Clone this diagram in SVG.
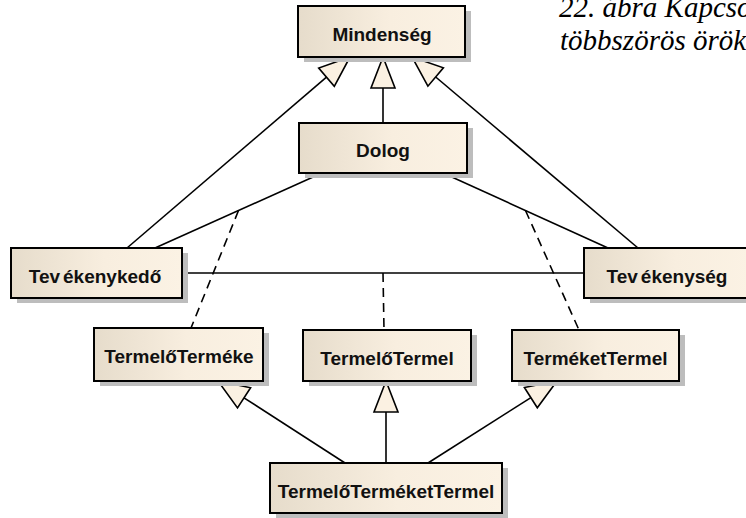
<svg xmlns="http://www.w3.org/2000/svg" width="746" height="518" viewBox="0 0 746 518">
  <defs>
    <linearGradient id="boxFill" x1="0" y1="0" x2="1" y2="0">
      <stop offset="0" stop-color="#e6dccb"/>
      <stop offset="0.55" stop-color="#f8eedf"/>
      <stop offset="1" stop-color="#fbf2e4"/>
    </linearGradient>
  </defs>
  <style>
    .shadow { fill: #bdbdbd; }
    .box { fill: url(#boxFill); stroke: #000; stroke-width: 2; }
    .label { font-family: "Liberation Sans", Arial, sans-serif; font-weight: bold; font-size: 19px; fill: #111; text-anchor: middle; }
    .line { stroke: #000; stroke-width: 1.6; fill: none; }
    .dashed { stroke: #000; stroke-width: 1.6; fill: none; stroke-dasharray: 9 6; }
    .head { fill: #fbf1e2; stroke: #000; stroke-width: 1.6; stroke-linejoin: miter; }
    .caption { font-family: "Liberation Serif", "DejaVu Serif", "Times New Roman", serif; font-style: italic; font-size: 29px; fill: #000; }
  </style>
  <rect width="746" height="518" fill="#fff"/>

  <!-- caption, running off the right edge -->
  <text class="caption" x="559" y="17">22. ábra Kapcso</text>
  <text class="caption" x="560" y="50">többszörös örök</text>

  <!-- connectors -->
  <g id="connectors">
    <!-- generalizations up to Mindenség -->
    <line class="line" x1="383" y1="123" x2="383" y2="88"/>
    <polygon class="head" points="383,57 371,88 395,88"/>
    <line class="line" x1="127" y1="248" x2="326.5" y2="77.2"/>
    <polygon class="head" points="350,57 334.3,86.3 318.7,68.1"/>
    <line class="line" x1="638" y1="248" x2="435.7" y2="77"/>
    <polygon class="head" points="412,57 443.4,67.8 427.9,86.2"/>

    <!-- associations -->
    <line class="line" x1="322" y1="173" x2="155" y2="248"/>
    <line class="line" x1="443" y1="173" x2="608" y2="248"/>
    <line class="line" x1="182" y1="273" x2="584" y2="273"/>

    <!-- association classes -->
    <line class="dashed" x1="238.5" y1="210.5" x2="191" y2="328"/>
    <line class="dashed" x1="383" y1="273" x2="384" y2="330"/>
    <line class="dashed" x1="525.5" y1="210.5" x2="579" y2="330"/>

    <!-- generalizations from TermelőTerméketTermel -->
    <line class="line" x1="345" y1="463" x2="244" y2="397.8"/>
    <polygon class="head" points="218,381 250.6,387.7 237.5,407.9"/>
    <line class="line" x1="386" y1="463" x2="386" y2="412"/>
    <polygon class="head" points="386,381 374,412 398,412"/>
    <line class="line" x1="428" y1="463" x2="530.9" y2="397.6"/>
    <polygon class="head" points="557,381 537.3,407.8 524.4,387.5"/>
  </g>

  <g id="mindenseg">
    <rect class="shadow" x="304" y="11" width="167" height="51"/>
    <rect class="box" x="298" y="6" width="167" height="51"/>
    <text class="label" x="382" y="41">Mindenség</text>
  </g>

  <g id="dolog">
    <rect class="shadow" x="305" y="128" width="168" height="50"/>
    <rect class="box" x="299" y="123" width="168" height="50"/>
    <text class="label" x="383" y="157">Dolog</text>
  </g>

  <g id="tevekenykedo">
    <rect class="shadow" x="17" y="253" width="171" height="50"/>
    <rect class="box" x="11" y="248" width="171" height="50"/>
    <text class="label" x="95" y="283">Tev<tspan dx="3">ékenykedő</tspan></text>
  </g>

  <g id="tevekenyseg">
    <rect class="shadow" x="590" y="253" width="166" height="50"/>
    <rect class="box" x="584" y="248" width="166" height="50"/>
    <text class="label" x="667" y="283">Tev<tspan dx="3">ékenység</tspan></text>
  </g>

  <g id="termelotermeke">
    <rect class="shadow" x="100" y="333" width="169" height="53"/>
    <rect class="box" x="94" y="328" width="169" height="53"/>
    <text class="label" x="179" y="363">TermelőTerméke</text>
  </g>

  <g id="termelotermel">
    <rect class="shadow" x="309" y="335" width="168" height="51"/>
    <rect class="box" x="303" y="330" width="168" height="51"/>
    <text class="label" x="387" y="365">TermelőTermel</text>
  </g>

  <g id="termeketermel">
    <rect class="shadow" x="518" y="335" width="167" height="51"/>
    <rect class="box" x="512" y="330" width="167" height="51"/>
    <text class="label" x="595.5" y="365">TerméketTermel</text>
  </g>

  <g id="termelotermeketermel">
    <rect class="shadow" x="276" y="468" width="232" height="50"/>
    <rect class="box" x="270" y="463" width="232" height="50"/>
    <text class="label" x="386" y="498">TermelőTerméketTermel</text>
  </g>
</svg>
